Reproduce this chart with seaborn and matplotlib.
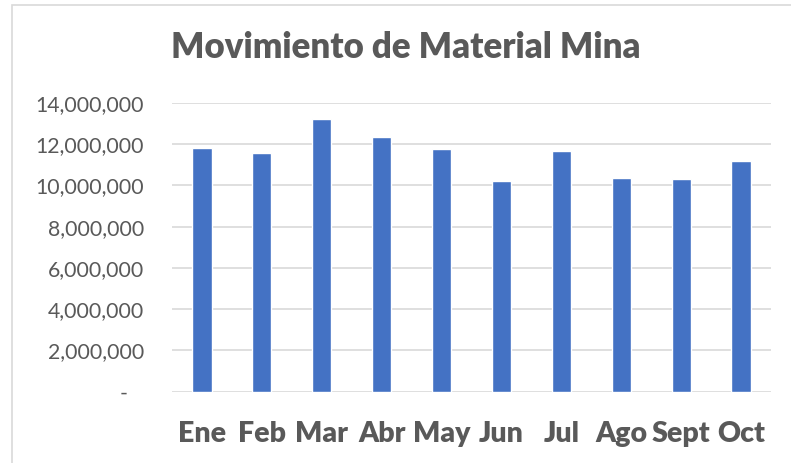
import matplotlib
matplotlib.use("Agg")
import matplotlib.pyplot as plt
import seaborn as sns
import pandas as pd
from matplotlib.ticker import FuncFormatter
from matplotlib.patches import Rectangle

months = ["Ene", "Feb", "Mar", "Abr", "May", "Jun", "Jul", "Ago", "Sept", "Oct"]
values = [11830000, 11590000, 13230000, 12370000, 11770000,
          10200000, 11660000, 10380000, 10320000, 11190000]
title = "Movimiento de Material Mina"

sns.set_theme(style="white")
plt.rcParams['font.family'] = ['Lato', 'DejaVu Sans']

df = pd.DataFrame({"mes": months, "valor": values})

fig = plt.figure(figsize=(7.91, 4.63), dpi=100)
ax = fig.add_axes([172/791, 1-391.5/463, (771-172)/791, (391.5-103)/463])

sns.barplot(data=df, x="mes", y="valor", color="#4472C4", saturation=1,
            width=0.32, ax=ax, zorder=3)

ax.set_ylim(0, 14000000)
ax.set_yticks(range(0, 14000001, 2000000))
ax.yaxis.set_major_formatter(FuncFormatter(lambda v, p: "-   " if v == 0 else f"{int(v):,}"))
ax.grid(axis="y", color="#D9D9D9", linewidth=1.2, zorder=0)
ax.set_axisbelow(True)
for s in ax.spines.values():
    s.set_visible(False)
ax.tick_params(axis="both", length=0)
ax.tick_params(axis="y", labelsize=15.3, labelcolor="#595959", pad=20)
ax.tick_params(axis="x", labelsize=20.5, labelcolor="#595959", pad=21)
for lbl in ax.get_xticklabels():
    lbl.set_fontweight("heavy")
ax.set_xlabel("")
ax.set_ylabel("")

fig.text(406/791, 1-47/463, title, ha="center", va="center",
         fontsize=25, fontweight="heavy", color="#595959")

fig.patches.append(Rectangle((12.5/791, -0.1), 1.2, 1-4.5/463+0.1,
                             transform=fig.transFigure, fill=False,
                             edgecolor="#D9D9D9", linewidth=1.2))

fig.savefig("out.png", dpi=100)
